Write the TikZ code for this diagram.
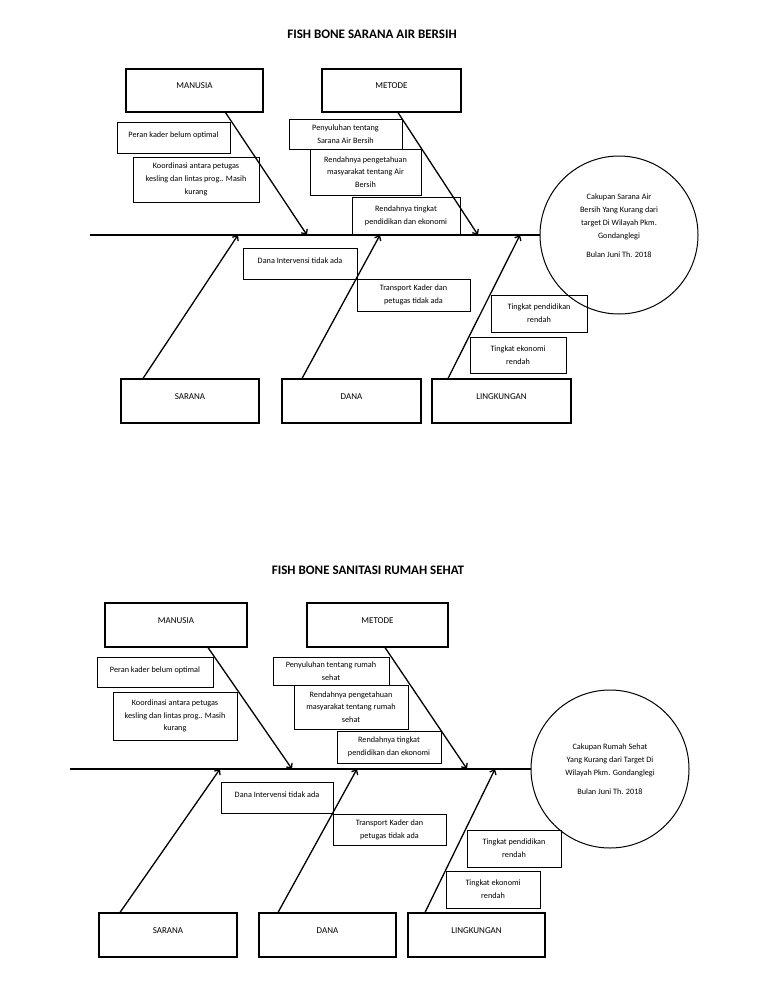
\documentclass[tikz,border=0pt]{standalone}
\usepackage{fontspec}
\setmainfont{Carlito}
\usetikzlibrary{arrows.meta, positioning}
\tikzset{>={Straight Barb[length=4pt,width=7pt]}}

\begin{document}
\begin{tikzpicture}[x=1pt, y=-1pt,
    judul/.style={font=\fontsize{13}{15}\selectfont\bfseries},
    kategori/.style={draw, line width=1.1pt, inner sep=0pt, text height=6pt, text depth=9pt, font=\fontsize{9}{11}\selectfont},
    sebab/.style={draw, line width=0.9pt, inner sep=0pt, align=center, font=\fontsize{8.2}{12.8}\selectfont},
    akibat/.style={draw, circle, line width=1pt, minimum size=158pt, inner sep=0pt, align=center, font=\fontsize{8.2}{12.8}\selectfont},
    tulang/.style={line width=1.3pt, ->},
    duri/.style={line width=1.4pt}]
\useasboundingbox (0,0) rectangle (768,1006);

% ---- fish bone 1
\node[judul] (judul1) at (372,34) {FISH BONE SARANA AIR BERSIH};
\node[kategori, minimum width=137pt, minimum height=43pt] (manusia1) at (194.5,90.5) {MANUSIA};
\node[kategori, minimum width=139pt, minimum height=43pt] (metode1) at (391.5,90.5) {METODE};
\node[kategori, minimum width=138pt, minimum height=44pt] (sarana1) at (190,401) {SARANA};
\node[kategori, minimum width=139pt, minimum height=44pt] (dana1) at (351.5,401) {DANA};
\node[kategori, minimum width=139pt, minimum height=44pt] (lingkungan1) at (501.5,401) {LINGKUNGAN};
\node[akibat] (akibat1) at (619,235) {Cakupan Sarana Air\\Bersih Yang Kurang dari\\target Di Wilayah Pkm.\\Gondanglegi\\[6pt]Bulan Juni Th. 2018\\[6pt]};

\node[sebab, minimum width=113pt, minimum height=31pt, text depth=5pt] (peran1) at (173.5,137.5) {Peran kader belum optimal};
\node[sebab, minimum width=126pt, minimum height=45pt] (koord1) at (196,179.5) {Koordinasi antara petugas\\kesling dan lintas prog.. Masih\\kurang};
\node[sebab, minimum width=113pt, minimum height=30pt] (penyuluhan1) at (345.5,134) {Penyuluhan tentang\\Sarana Air Bersih};
\node[sebab, minimum width=111pt, minimum height=46pt] (pengetahuan1) at (365.5,172) {Rendahnya pengetahuan\\masyarakat tentang Air\\Bersih};
\node[sebab, minimum width=108pt, minimum height=38pt] (tingkat1) at (406,216) {Rendahnya tingkat\\pendidikan dan ekonomi};
\node[sebab, minimum width=114pt, minimum height=31pt, text depth=5pt] (intervensi1) at (300,263.5) {Dana Intervensi tidak ada};
\node[sebab, minimum width=113pt, minimum height=32pt] (transport1) at (413.5,295) {Transport Kader dan\\petugas tidak ada};
\node[sebab, minimum width=96pt, minimum height=37pt] (pendidikan1) at (539,313.5) {Tingkat pendidikan\\rendah};
\node[sebab, minimum width=96pt, minimum height=36pt] (ekonomi1) at (518,355) {Tingkat ekonomi\\rendah};

\coordinate (ekor1) at (90,235);
\coordinate (tm1) at (307,235);
\coordinate (tt1) at (478,235);
\coordinate (ts1) at (238,235);
\coordinate (td1) at (380,235);
\coordinate (tl1) at (520,235);
\draw[duri] (ekor1) -- (akibat1.west);
\draw[tulang] ([xshift=31pt]manusia1.south) -- (tm1);
\draw[tulang] ([xshift=6.5pt]metode1.south) -- (tt1);
\draw[tulang] ([xshift=-47pt]sarana1.north) -- (ts1);
\draw[tulang] ([xshift=-49.5pt]dana1.north) -- (td1);
\draw[tulang] ([xshift=-53.5pt]lingkungan1.north) -- (tl1);

% ---- fish bone 2
\node[judul] (judul2) at (368,570) {FISH BONE SANITASI RUMAH SEHAT};
\node[kategori, minimum width=142pt, minimum height=44pt] (manusia2) at (176,625) {MANUSIA};
\node[kategori, minimum width=141pt, minimum height=44pt] (metode2) at (377.5,625) {METODE};
\node[kategori, minimum width=138pt, minimum height=44pt] (sarana2) at (168,935) {SARANA};
\node[kategori, minimum width=137pt, minimum height=44pt] (dana2) at (327.5,935) {DANA};
\node[kategori, minimum width=137pt, minimum height=44pt] (lingkungan2) at (476.5,935) {LINGKUNGAN};
\node[akibat] (akibat2) at (610,769) {Cakupan Rumah Sehat\\Yang Kurang dari Target Di\\Wilayah Pkm. Gondanglegi\\[6pt]Bulan Juni Th. 2018};

\node[sebab, minimum width=116pt, minimum height=30pt, text depth=5pt] (peran2) at (155,672) {Peran kader belum optimal};
\node[sebab, minimum width=124pt, minimum height=48pt] (koord2) at (175,716) {Koordinasi antara petugas\\kesling dan lintas prog.. Masih\\kurang};
\node[sebab, minimum width=116pt, minimum height=28pt] (penyuluhan2) at (331,671) {Penyuluhan tentang rumah\\sehat};
\node[sebab, minimum width=114pt, minimum height=44pt] (pengetahuan2) at (351,707) {Rendahnya pengetahuan\\masyarakat tentang rumah\\sehat};
\node[sebab, minimum width=104pt, minimum height=32pt] (tingkat2) at (389,747) {Rendahnya tingkat\\pendidikan dan ekonomi};
\node[sebab, minimum width=112pt, minimum height=31pt, text depth=5pt] (intervensi2) at (277,797.5) {Dana Intervensi tidak ada};
\node[sebab, minimum width=113pt, minimum height=31pt] (transport2) at (389.5,829.5) {Transport Kader dan\\petugas tidak ada};
\node[sebab, minimum width=94pt, minimum height=37pt] (pendidikan2) at (514,848.5) {Tingkat pendidikan\\rendah};
\node[sebab, minimum width=94pt, minimum height=37pt] (ekonomi2) at (493,889.5) {Tingkat ekonomi\\rendah};

\coordinate (ekor2) at (70,769);
\coordinate (tm2) at (292,769);
\coordinate (tt2) at (467,769);
\coordinate (ts2) at (220,769);
\coordinate (td2) at (357,769);
\coordinate (tl2) at (495,769);
\draw[duri] (ekor2) -- (akibat2.west);
\draw[tulang] ([xshift=32pt]manusia2.south) -- (tm2);
\draw[tulang] ([xshift=7.5pt]metode2.south) -- (tt2);
\draw[tulang] ([xshift=-48pt]sarana2.north) -- (ts2);
\draw[tulang] ([xshift=-49.5pt]dana2.north) -- (td2);
\draw[tulang] ([xshift=-51.5pt]lingkungan2.north) -- (tl2);
\end{tikzpicture}
\end{document}
